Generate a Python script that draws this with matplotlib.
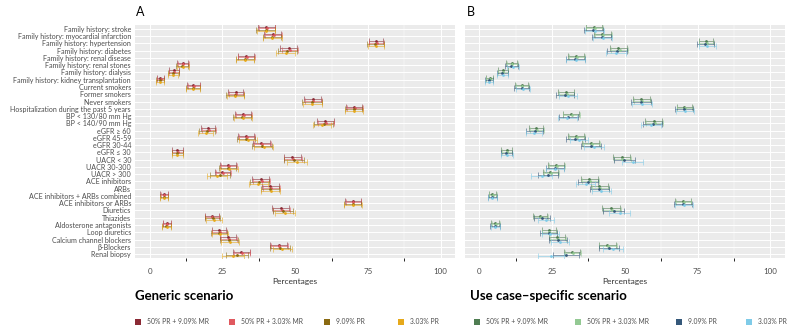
import numpy as np
import matplotlib.pyplot as plt
from matplotlib.patches import Rectangle

plt.rcParams["font.family"] = ["Lato", "DejaVu Sans"]

categories = [
    "Family history: stroke", "Family history: myocardial infarction",
    "Family history: hypertension", "Family history: diabetes",
    "Family history: renal disease", "Family history: renal stones",
    "Family history: dialysis", "Family history: kidney transplantation",
    "Current smokers", "Former smokers", "Never smokers",
    "Hospitalization during the past 5 years",
    "BP < 130/80 mm Hg", "BP < 140/90 mm Hg",
    "eGFR \u2265 60", "eGFR 45-59", "eGFR 30-44", "eGFR \u2264 30",
    "UACR < 30", "UACR 30-300", "UACR > 300",
    "ACE inhibitors", "ARBs", "ACE inhibitors + ARBs combined",
    "ACE inhibitors or ARBs", "Diuretics", "Thiazides",
    "Aldosterone antagonists", "Loop diuretics", "Calcium channel blockers",
    "\u03b2-Blockers", "Renal biopsy",
]

series_labels = ["50% PR + 9.09% MR", "50% PR + 3.03% MR", "9.09% PR", "3.03% PR"]

# panel A: generic scenario
a_mr9 = [40.0, 42.3, 77.8, 47.8, 33.0, 11.3, 8.2, 3.6, 15.0, 29.5, 56.0, 70.3,
         32.0, 60.3, 20.0, 33.2, 38.4, 9.5, 49.0, 27.0, 25.0, 38.2, 41.5, 4.9,
         69.8, 45.0, 21.3, 5.8, 23.8, 27.0, 44.3, 31.5]
a_mr3 = [40.3, 42.6, 78.0, 48.2, 33.3, 11.5, 8.4, 3.7, 15.2, 29.8, 56.2, 70.5,
         32.3, 60.6, 20.3, 33.5, 38.7, 9.6, 49.3, 27.3, 25.3, 38.5, 41.8, 5.0,
         70.0, 45.3, 21.5, 5.9, 24.0, 27.3, 44.6, 31.8]
a_pr9 = [39.8, 42.0, 77.6, 47.3, 32.8, 11.2, 8.1, 3.5, 14.9, 29.3, 55.8, 70.1,
         31.8, 59.8, 19.6, 33.0, 38.6, 9.4, 49.6, 26.8, 24.2, 37.6, 41.4, 4.8,
         69.7, 45.8, 21.6, 5.7, 23.9, 27.2, 44.8, 30.0]
a_pr3 = [39.9, 42.1, 77.7, 46.8, 32.9, 11.3, 8.0, 3.5, 15.0, 29.4, 55.9, 70.2,
         31.9, 59.2, 19.2, 33.8, 39.2, 9.5, 50.5, 27.2, 23.0, 37.3, 41.6, 4.9,
         69.9, 46.5, 22.0, 5.8, 24.2, 27.6, 45.5, 28.5]
a_err_mr = [2.9, 2.9, 2.5, 2.9, 2.8, 1.9, 1.7, 1.2, 2.2, 2.7, 3.0, 2.7,
            2.8, 2.9, 2.4, 2.8, 2.9, 1.8, 3.0, 2.7, 2.6, 2.9, 2.9, 1.3,
            2.7, 3.0, 2.4, 1.4, 2.5, 2.7, 3.0, 2.8]
a_err_pr = [3.2, 3.2, 2.8, 3.3, 3.1, 2.1, 1.8, 1.3, 2.4, 3.0, 3.3, 3.0,
            3.1, 3.2, 2.7, 3.1, 3.3, 1.9, 3.4, 3.0, 3.4, 3.3, 3.2, 1.4,
            3.0, 3.4, 2.7, 1.5, 2.8, 3.0, 3.3, 3.8]

# panel B: use case-specific scenario
b_mr9 = [39.4, 42.3, 77.9, 47.8, 33.2, 11.1, 8.0, 3.5, 14.6, 29.7, 55.7, 70.5,
         31.4, 60.0, 19.4, 33.2, 38.3, 9.4, 48.9, 26.3, 24.4, 37.8, 41.2, 4.5,
         70.0, 45.3, 21.0, 5.5, 23.9, 26.7, 44.0, 31.8]
b_mr3 = [39.7, 42.6, 78.1, 48.2, 33.5, 11.3, 8.2, 3.6, 14.8, 30.0, 56.0, 70.8,
         31.7, 60.3, 19.7, 33.5, 38.6, 9.5, 49.2, 26.6, 24.7, 38.1, 41.5, 4.6,
         70.2, 45.6, 21.3, 5.6, 24.1, 27.0, 44.3, 32.1]
b_pr9 = [39.2, 42.1, 77.7, 47.4, 33.0, 11.0, 7.9, 3.4, 14.5, 29.4, 55.5, 70.3,
         30.6, 59.6, 19.0, 33.0, 38.5, 9.3, 49.8, 26.1, 23.6, 37.3, 41.3, 4.4,
         69.9, 46.2, 21.6, 5.4, 23.8, 26.9, 44.6, 29.8]
b_pr3 = [39.6, 42.4, 78.3, 47.0, 33.1, 11.6, 8.1, 3.4, 15.0, 30.4, 55.9, 70.6,
         30.2, 59.0, 18.8, 34.2, 39.5, 9.4, 52.7, 26.0, 21.5, 36.5, 41.9, 4.4,
         70.4, 48.2, 23.0, 5.5, 24.4, 27.8, 46.0, 24.5]
b_err_mr = [2.9, 2.9, 2.5, 2.9, 2.8, 1.9, 1.7, 1.2, 2.2, 2.7, 3.0, 2.7,
            2.8, 2.9, 2.4, 2.8, 2.9, 1.8, 3.0, 2.7, 2.6, 2.9, 2.9, 1.3,
            2.7, 3.0, 2.4, 1.4, 2.5, 2.7, 3.0, 2.8]
b_err_pr = [3.3, 3.3, 2.9, 3.4, 3.2, 2.2, 1.9, 1.4, 2.5, 3.1, 3.4, 3.1,
            3.2, 3.3, 2.8, 3.2, 3.4, 2.0, 3.6, 3.1, 3.6, 3.4, 3.3, 1.5,
            3.1, 3.6, 2.8, 1.6, 2.9, 3.1, 3.4, 4.5]

colors_a = ["#8b2a35", "#e0595f", "#8a6a12", "#e6a91b"]
colors_b = ["#4f7d52", "#93c993", "#35587a", "#7fcbe8"]

offsets = [-0.3, -0.1, 0.1, 0.3]
grey_bg = "#ebebeb"
txt = "#4d4d4d"

fig = plt.figure(figsize=(8, 3.36), dpi=100)
axA = fig.add_axes([0.169, 0.232, 0.400, 0.694])
axB = fig.add_axes([0.581, 0.232, 0.400, 0.694])

y = np.arange(len(categories))


def draw_panel(ax, vals, errs, colors, show_labels):
    ax.set_facecolor(grey_bg)
    for i in range(4):
        ax.errorbar(vals[i], y + offsets[i], xerr=errs[i], fmt="none",
                    ecolor=colors[i], elinewidth=0.6, capsize=2.2,
                    capthick=0.6, alpha=0.65, zorder=3)
    for i in range(4):
        ax.scatter(vals[i], y + offsets[i], s=4, color=colors[i],
                   zorder=4, linewidths=0)
    ax.set_xlim(-5, 105)
    ax.set_ylim(len(categories) - 0.45, -0.55)
    ax.set_xticks([0, 25, 50, 75, 100])
    ax.set_xticks([12.5, 37.5, 62.5, 87.5], minor=True)
    ax.set_yticks(y)
    if show_labels:
        ax.set_yticklabels(categories, fontsize=5.1, color=txt)
    else:
        ax.set_yticklabels([])
    ax.tick_params(axis="both", length=0, pad=3)
    ax.tick_params(axis="x", labelsize=5.8, labelcolor=txt, pad=7)
    ax.grid(which="major", color="white", linewidth=0.7)
    ax.grid(which="minor", axis="x", color="white", linewidth=0.35)
    ax.set_axisbelow(True)
    for s in ax.spines.values():
        s.set_visible(False)
    ax.set_xlabel("Percentages", fontsize=6, color="#333333", labelpad=2)


draw_panel(axA, [a_mr9, a_mr3, a_pr9, a_pr3], [a_err_mr, a_err_mr, a_err_pr, a_err_pr],
           colors_a, True)
draw_panel(axB, [b_mr9, b_mr3, b_pr9, b_pr3], [b_err_mr, b_err_mr, b_err_pr, b_err_pr],
           colors_b, False)

fig.text(0.170, 0.963, "A", fontsize=9, va="center", ha="left")
fig.text(0.584, 0.963, "B", fontsize=9, va="center", ha="left")

fig.text(0.169, 0.118, "Generic scenario", fontsize=9.5, fontweight="bold",
         va="center", ha="left")
fig.text(0.587, 0.118, "Use case\u2013specific scenario", fontsize=9.5,
         fontweight="bold", va="center", ha="left")

# legends
leg_y = 1 - 322 / 336
leg_a_x = [138, 232, 327, 401]
leg_b_x = [477, 578, 679, 749]
for xs, cols in [(leg_a_x, colors_a), (leg_b_x, colors_b)]:
    for xpx, c, lab in zip(xs, cols, series_labels):
        fig.add_artist(Rectangle((xpx / 800 - 0.004, leg_y - 0.0095), 0.008, 0.019,
                                 transform=fig.transFigure, color=c, lw=0))
        fig.text(xpx / 800 + 0.011, leg_y, lab, fontsize=4.9, color=txt,
                 va="center", ha="left")

fig.savefig("out.png", dpi=100)
